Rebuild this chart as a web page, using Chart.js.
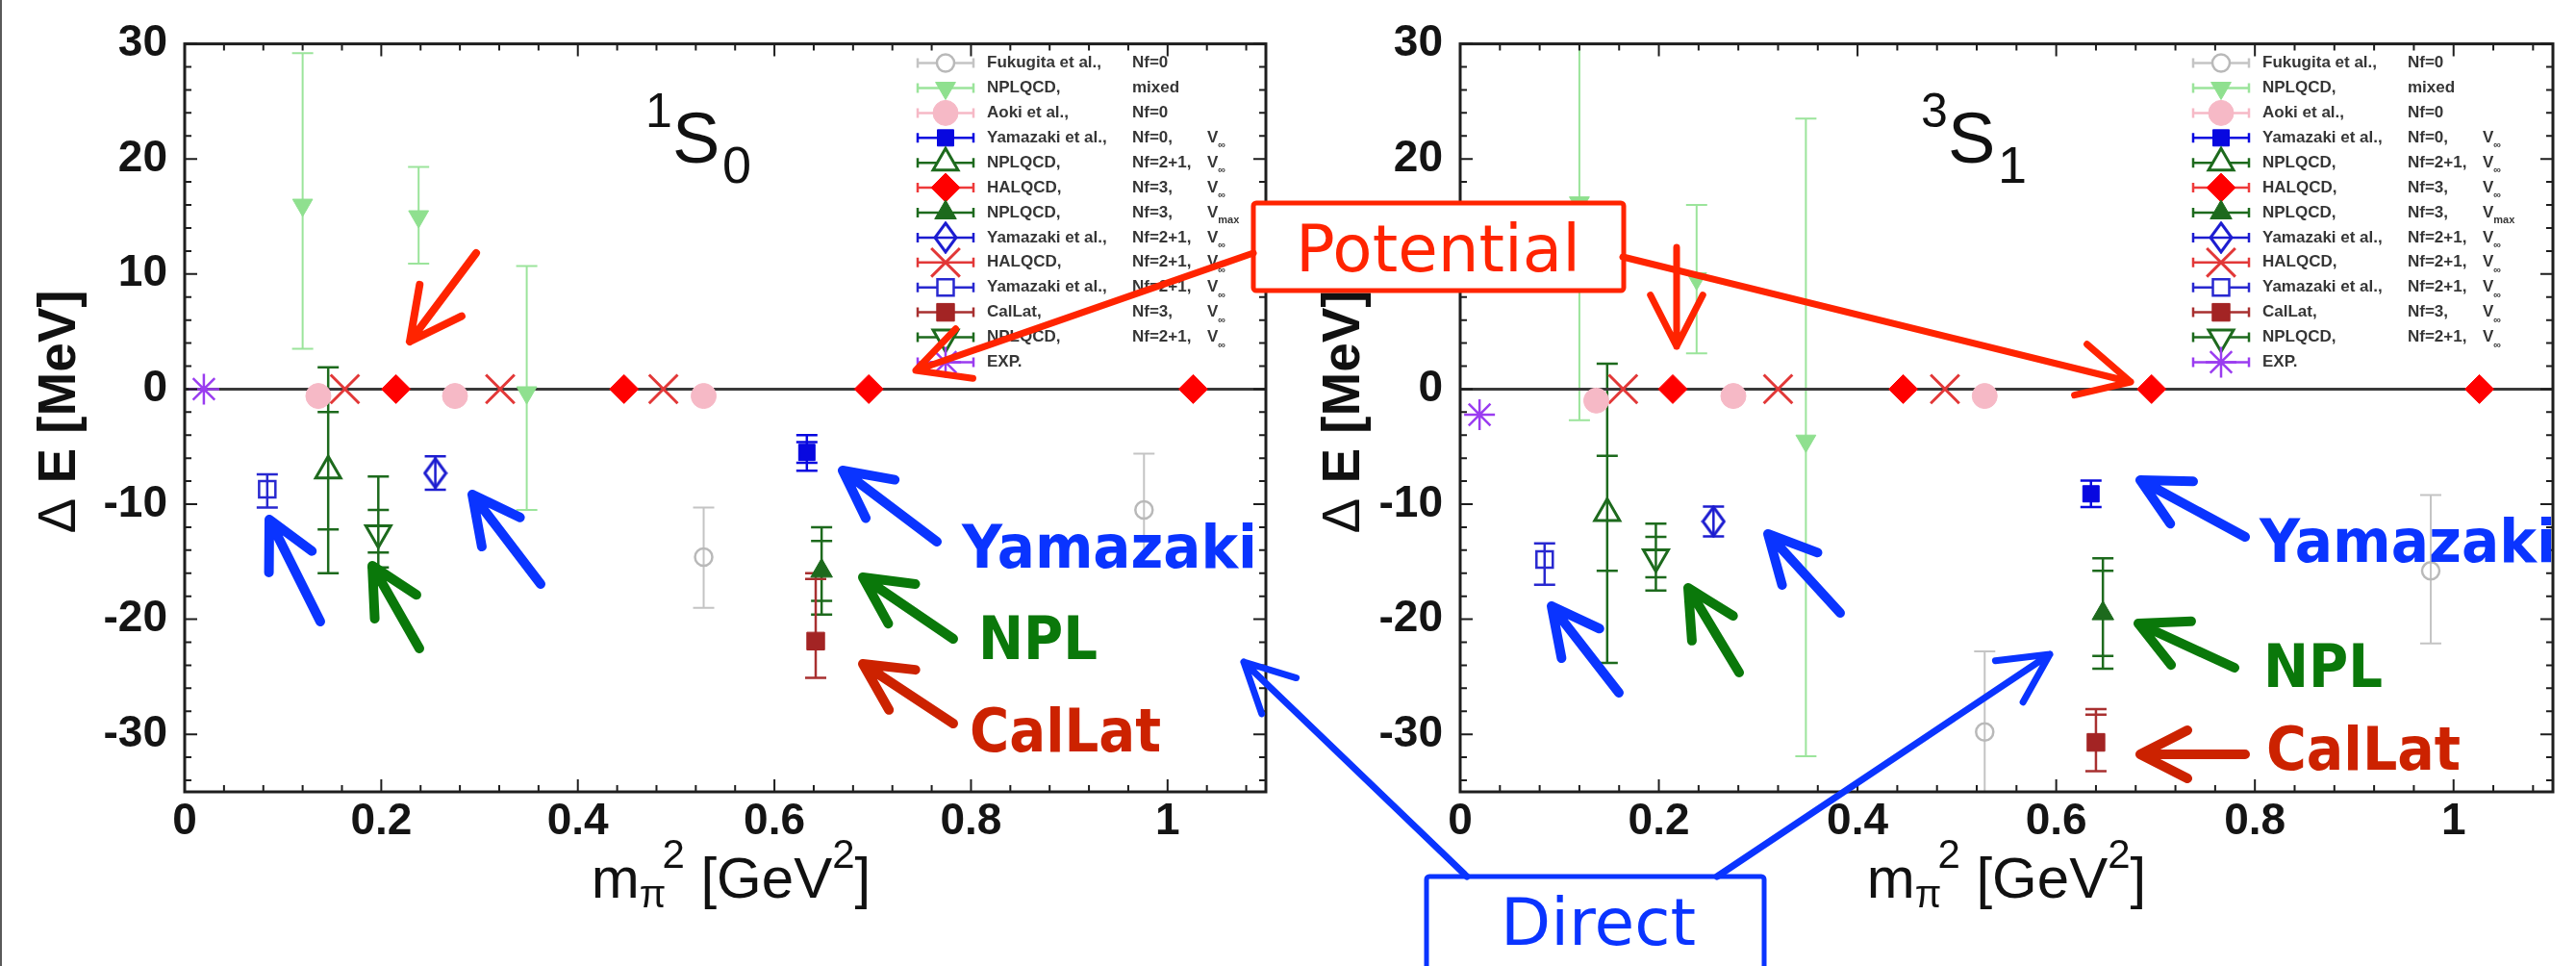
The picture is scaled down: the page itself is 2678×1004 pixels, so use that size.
<!DOCTYPE html>
<html lang="en">
<head>
<meta charset="utf-8">
<title>NN energy shifts vs pion mass squared</title>
<script src="https://cdn.jsdelivr.net/npm/chart.js@4.4.1/dist/chart.umd.min.js"></script>
<style>
  html, body { margin: 0; padding: 0; background: #fff; }
  #stage { position: relative; width: 2678px; height: 1004px; overflow: hidden; background: #fff; }
  #stage canvas { position: absolute; top: 0; }
  #panelA { left: 0; }
  #panelB { left: 1326px; }
  #notes { position: absolute; left: 0; top: 0; pointer-events: none; }
</style>
</head>
<body>
<div id="stage">
  <canvas id="panelA" width="1340" height="1004"></canvas>
  <canvas id="panelB" width="1352" height="1004"></canvas>
  <svg id="notes" width="2678" height="1004" xmlns="http://www.w3.org/2000/svg"></svg>
</div>
<script>
// ---------- axis ticks ----------
const xTickValues = [0, 0.2, 0.4, 0.6, 0.8, 1.0];
const xTickLabels = ['0', '0.2', '0.4', '0.6', '0.8', '1'];
const yTickValues = [30, 20, 10, 0, -10, -20, -30];
const yTickLabels = ['30', '20', '10', '0', '-10', '-20', '-30'];

// ---------- key entries: collaboration, flavours, volume ----------
const keyNames = ['Fukugita et al.,', 'NPLQCD,', 'Aoki et al.,', 'Yamazaki et al.,', 'NPLQCD,', 'HALQCD,',
                  'NPLQCD,', 'Yamazaki et al.,', 'HALQCD,', 'Yamazaki et al.,', 'CalLat,', 'NPLQCD,', 'EXP.'];
const keyFlavours = ['Nf=0', 'mixed', 'Nf=0', 'Nf=0,', 'Nf=2+1,', 'Nf=3,', 'Nf=3,', 'Nf=2+1,', 'Nf=2+1,',
                     'Nf=2+1,', 'Nf=3,', 'Nf=2+1,', ''];
const keyVolumes = ['', '', '', '\u221E', '\u221E', '\u221E', 'max', '\u221E', '\u221E', '\u221E', '\u221E', '\u221E', ''];

// ---------- 1S0 channel: [m_pi^2 GeV^2, dE MeV, stat-, stat+, total-, total+] ----------
const fukugita1S0     = [[0.528, -14.6, 4.4, 4.3], [0.976, -10.5, 4.7, 4.9]];
const nplMixed1S0     = [[0.120, 16.0, 12.5, 13.2], [0.238, 15.0, 4.1, 4.3], [0.348, -0.3, 10.2, 11.0]];
const aoki1S0         = [[0.136, -0.6], [0.275, -0.6], [0.528, -0.6]];
const yamazakiQ1S0    = [[0.633, -5.5, 0.9, 0.9, 1.6, 1.5]];
const nplOpen1S0      = [[0.146, -7.1, 5.1, 5.1, 8.9, 9.0]];
const halNf3_1S0      = [[0.215, 0], [0.447, 0], [0.696, 0], [1.026, 0]];
const nplNf3_1S0      = [[0.648, -15.8, 2.6, 2.6, 3.8, 3.8]];
const yamazakiDia1S0  = [[0.255, -7.3, 1.45, 1.45]];
const hal21_1S0       = [[0.163, 0], [0.321, 0], [0.487, 0]];
const yamazakiSq1S0   = [[0.084, -8.7, 1.6, 1.3]];
const calLat1S0       = [[0.642, -21.9, 3.2, 5.4, 3.2, 5.9]];
const nplInv1S0       = [[0.197, -12.5, 1.7, 2.0, 3.0, 4.9]];
const exp1S0          = [[0.0195, 0]];

// ---------- 3S1 channel ----------
const fukugita3S1     = [[0.528, -29.8, 7.0, 7.0], [0.977, -15.8, 6.3, 6.6]];
const nplMixed3S1     = [[0.120, 16.2, 18.9, 17.0], [0.238, 9.6, 6.5, 6.4], [0.348, -4.5, 27.4, 28.0]];
const aoki3S1         = [[0.137, -1.0], [0.275, -0.6], [0.528, -0.6]];
const yamazakiQ3S1    = [[0.635, -9.1, 1.15, 1.15]];
const nplOpen3S1      = [[0.148, -10.8, 5.0, 5.0, 13.0, 13.0]];
const halNf3_3S1      = [[0.214, 0], [0.446, 0], [0.696, 0], [1.026, 0]];
const nplNf3_3S1      = [[0.647, -19.5, 3.7, 3.7, 4.8, 4.8]];
const yamazakiDia3S1  = [[0.255, -11.5, 1.3, 1.3]];
const hal21_3S1       = [[0.164, 0], [0.320, 0], [0.488, 0]];
const yamazakiSq3S1   = [[0.085, -14.8, 2.2, 1.4]];
const calLat3S1       = [[0.640, -30.7, 2.5, 2.4, 2.5, 2.9]];
const nplInv3S1       = [[0.197, -14.6, 1.75, 1.75, 2.9, 2.9]];
const exp3S1          = [[0.0195, -2.22]];

const rows1S0 = [fukugita1S0, nplMixed1S0, aoki1S0, yamazakiQ1S0, nplOpen1S0, halNf3_1S0, nplNf3_1S0,
                 yamazakiDia1S0, hal21_1S0, yamazakiSq1S0, calLat1S0, nplInv1S0, exp1S0];
const rows3S1 = [fukugita3S1, nplMixed3S1, aoki3S1, yamazakiQ3S1, nplOpen3S1, halNf3_3S1, nplNf3_3S1,
                 yamazakiDia3S1, hal21_3S1, yamazakiSq3S1, calLat3S1, nplInv3S1, exp3S1];

// ---------- marker looks, same order as the key ----------
const NONE = 'rgba(0,0,0,0)';
const DKGREEN = '#1d6a1d';
const seriesLook = [
  { shape: 'circle',   r: 9,  fill: NONE,      line: '#b9b9b9', lw: 2.5, bar: '#c4c4c4', barW: 2 },
  { shape: 'triangle', r: 12, fill: '#8fe08f', line: '#8fe08f', lw: 1,   bar: '#9be49b', barW: 2, rot: 180 },
  { shape: 'circle',   r: 13, fill: '#f6b9c6', line: '#f6b9c6', lw: 1,   bar: '#f6b9c6', barW: 2 },
  { shape: 'rect',     r: 12, fill: '#0808e0', line: '#0808e0', lw: 1,   bar: '#0808e0', barW: 2.5 },
  { shape: 'triangle', r: 15, fill: NONE,      line: DKGREEN,   lw: 3,   bar: DKGREEN,   barW: 2.5 },
  { shape: 'rectRot',  r: 15, fill: '#ff0000', line: '#ff0000', lw: 1,   bar: '#ee3a3a', barW: 2 },
  { shape: 'triangle', r: 13, fill: DKGREEN,   line: DKGREEN,   lw: 1,   bar: DKGREEN,   barW: 2.5 },
  { shape: 'tallDiamond', r: 13, fill: NONE,   line: '#1c1cd0', lw: 3,   bar: '#1c1cd0', barW: 2.5 },
  { shape: 'crossRot', r: 21, fill: '#e23838', line: '#e23838', lw: 3,   bar: '#e23838', barW: 2 },
  { shape: 'rect',     r: 12, fill: NONE,      line: '#2828d0', lw: 2.5, bar: '#2828d0', barW: 2.5 },
  { shape: 'rect',     r: 13, fill: '#a32424', line: '#a32424', lw: 1,   bar: '#a83030', barW: 2.5 },
  { shape: 'triangle', r: 15, fill: NONE,      line: DKGREEN,   lw: 3,   bar: DKGREEN,   barW: 2.5, rot: 180 },
  { shape: 'star',     r: 16, fill: '#9a3cf0', line: '#9a3cf0', lw: 2.5, bar: '#9a3cf0', barW: 2 }
];

// Open diamond, taller than wide
function tallDiamond(color) {
  const c = document.createElement('canvas');
  c.width = 26; c.height = 34;
  const g = c.getContext('2d');
  g.strokeStyle = color; g.lineWidth = 3;
  g.beginPath(); g.moveTo(13, 2); g.lineTo(24, 17); g.lineTo(13, 32); g.lineTo(2, 17); g.closePath();
  g.stroke();
  return c;
}

function toDatasets(rowsList) {
  return rowsList.map((rows, i) => {
    const look = seriesLook[i];
    const style = look.shape === 'tallDiamond' ? tallDiamond(look.line) : look.shape;
    return {
      label: keyNames[i],
      data: rows.map(r => ({ x: r[0], y: r[1] })),
      errors: rows.map(r => (r.length > 2 ? r.slice(2) : null)),
      pointStyle: style,
      pointRadius: look.r,
      pointRotation: look.rot || 0,
      pointBackgroundColor: look.fill,
      pointBorderColor: look.line,
      pointBorderWidth: look.lw,
      backgroundColor: look.fill,
      borderColor: look.line,
      borderWidth: look.lw,
      barColor: look.bar,
      barWidth: look.barW,
      showLine: false
    };
  });
}

// ---------- plugins ----------
const CAP = 11;

// zero line under the markers, frame and inward ticks above
const framePlugin = {
  id: 'frame',
  beforeDatasetsDraw(chart) {
    const { ctx, chartArea: a, scales: { y } } = chart;
    const y0 = y.getPixelForValue(0);
    ctx.save();
    ctx.strokeStyle = '#3a3a3a'; ctx.lineWidth = 3;
    ctx.beginPath(); ctx.moveTo(a.left, y0); ctx.lineTo(a.right, y0); ctx.stroke();
    ctx.restore();
  },
  afterDatasetsDraw(chart) {
    const { ctx, chartArea: a, scales: { x, y } } = chart;
    ctx.save();
    ctx.strokeStyle = '#1e1e1e';
    ctx.lineWidth = 2;
    ctx.beginPath();
    for (let i = 0; i <= 27; i++) {
      const px = x.getPixelForValue(i * 0.04);
      const len = i % 5 === 0 ? 13 : 7;
      ctx.moveTo(px, a.bottom); ctx.lineTo(px, a.bottom - len);
      ctx.moveTo(px, a.top); ctx.lineTo(px, a.top + len);
    }
    for (let v = -34; v <= 30; v += 2) {
      const py = y.getPixelForValue(v);
      const len = v % 10 === 0 ? 13 : 7;
      ctx.moveTo(a.left, py); ctx.lineTo(a.left + len, py);
      ctx.moveTo(a.right, py); ctx.lineTo(a.right - len, py);
    }
    ctx.stroke();
    ctx.lineWidth = 3;
    ctx.strokeRect(a.left, a.top, a.right - a.left, a.bottom - a.top);
    ctx.restore();
  }
};

// stat and total error bars, capped at both levels
const errorBarPlugin = {
  id: 'errorBars',
  beforeDatasetsDraw(chart) {
    const { ctx, chartArea: a, scales: { x, y } } = chart;
    ctx.save();
    ctx.beginPath(); ctx.rect(a.left, a.top, a.right - a.left, a.bottom - a.top); ctx.clip();
    chart.data.datasets.forEach(ds => {
      ctx.strokeStyle = ds.barColor; ctx.lineWidth = ds.barWidth;
      ds.data.forEach((pt, i) => {
        const e = ds.errors[i];
        if (!e) return;
        const lo = [e[0]], hi = [e[1]];
        if (e.length > 2) { lo.push(e[2]); hi.push(e[3]); }
        const px = x.getPixelForValue(pt.x);
        const top = y.getPixelForValue(pt.y + Math.max(...hi));
        const bot = y.getPixelForValue(pt.y - Math.max(...lo));
        ctx.beginPath();
        ctx.moveTo(px, top); ctx.lineTo(px, bot);
        [...lo.map(d => pt.y - d), ...hi.map(d => pt.y + d)].forEach(v => {
          const py = y.getPixelForValue(v);
          ctx.moveTo(px - CAP, py); ctx.lineTo(px + CAP, py);
        });
        ctx.stroke();
      });
    });
    ctx.restore();
  }
};

// key in the upper right of each panel
const seriesKeyPlugin = {
  id: 'seriesKey',
  afterDraw(chart) {
    const { ctx, chartArea: a } = chart;
    const sx = a.left + 791, c1 = a.left + 834, c2 = a.left + 985, c3 = a.left + 1063;
    chart.data.datasets.forEach((ds, i) => {
      const yy = a.top + 20 + i * 25.9;
      ctx.save();
      ctx.strokeStyle = ds.barColor; ctx.lineWidth = 2.5;
      ctx.beginPath();
      ctx.moveTo(sx - 29, yy); ctx.lineTo(sx + 29, yy);
      ctx.moveTo(sx - 29, yy - 5); ctx.lineTo(sx - 29, yy + 5);
      ctx.moveTo(sx + 29, yy - 5); ctx.lineTo(sx + 29, yy + 5);
      ctx.stroke();
      ctx.fillStyle = ds.pointBackgroundColor;
      ctx.strokeStyle = ds.pointBorderColor;
      ctx.lineWidth = ds.pointBorderWidth;
      if (ds.pointBackgroundColor === NONE) {
        ctx.fillStyle = '#ffffff';
      }
      Chart.helpers.drawPoint(ctx, {
        pointStyle: ds.pointStyle, radius: ds.pointRadius,
        rotation: ds.pointRotation, borderWidth: ds.pointBorderWidth
      }, sx, yy);
      ctx.restore();

      ctx.save();
      ctx.fillStyle = '#363636';
      ctx.textBaseline = 'middle';
      ctx.font = 'bold 17px "Liberation Sans", Arial, sans-serif';
      ctx.fillText(keyNames[i], c1, yy);
      ctx.fillText(keyFlavours[i], c2, yy);
      if (keyVolumes[i]) {
        ctx.fillText('V', c3, yy);
        const vw = ctx.measureText('V').width;
        ctx.font = 'bold 11px "Liberation Sans", Arial, sans-serif';
        ctx.fillText(keyVolumes[i], c3 + vw, yy + 8);
      }
      ctx.restore();
    });
  }
};

const tickFont = { family: '"Liberation Sans", Arial, sans-serif', size: 46, weight: 'bold' };

function buildPanel(canvasId, rowsList, padRight) {
  return new Chart(document.getElementById(canvasId), {
    type: 'scatter',
    data: { datasets: toDatasets(rowsList) },
    options: {
      responsive: false,
      animation: false,
      events: [],
      layout: { padding: { top: 32, right: padRight, left: 0, bottom: 0 } },
      plugins: { legend: { display: false }, tooltip: { enabled: false } },
      scales: {
        x: {
          type: 'linear', position: 'bottom', min: 0, max: 1.1,
          grid: { display: false, drawTicks: false },
          border: { display: false },
          afterBuildTicks: s => { s.ticks = xTickValues.map(v => ({ value: v })); },
          afterFit: s => { s.height = 181; },
          ticks: {
            autoSkip: false, maxRotation: 0, padding: 4, color: '#141414', font: tickFont,
            callback: v => xTickLabels[xTickValues.indexOf(v)]
          }
        },
        y: {
          type: 'linear', position: 'left', min: -35, max: 30,
          grid: { display: false, drawTicks: false },
          border: { display: false },
          afterBuildTicks: s => {
            s.ticks = [...yTickValues].sort((p, q) => p - q).map(v => ({ value: v }));
          },
          afterFit: s => { s.width = 192; },
          ticks: {
            autoSkip: false, padding: 18, color: '#141414', font: tickFont,
            callback: v => yTickLabels[yTickValues.indexOf(v)]
          }
        }
      }
    },
    plugins: [errorBarPlugin, framePlugin, seriesKeyPlugin]
  });
}

buildPanel('panelA', rows1S0, 3);
buildPanel('panelB', rows3S1, 15);

// ---------- titles and call-outs ----------
const SVGNS = 'http://www.w3.org/2000/svg';
const svg = document.getElementById('notes');

function el(tag, attrs, parent) {
  const e = document.createElementNS(SVGNS, tag);
  Object.entries(attrs).forEach(([k, v]) => e.setAttribute(k, v));
  (parent || svg).appendChild(e);
  return e;
}
function tspan(parent, text, attrs) {
  const t = el('tspan', attrs || {}, parent);
  t.textContent = text;
  return t;
}

// slide edge on the left
el('line', { x1: 1, y1: 0, x2: 1, y2: 1004, stroke: '#5a5a5a', 'stroke-width': 2 });

const AXIS_FONT = '"Liberation Sans", Arial, sans-serif';

function panelTitles(dx, sup, sub, yTitleX) {
  // spectroscopic label
  const st = el('text', { 'font-family': AXIS_FONT, fill: '#111' });
  tspan(st, sup, { x: 671 + dx, y: 132, 'font-size': 50 });
  tspan(st, 'S', { x: 699 + dx, y: 169, 'font-size': 74 });
  tspan(st, sub, { x: 751 + dx, y: 190, 'font-size': 54 });

  // vertical axis title
  const yt = el('text', {
    transform: `translate(${yTitleX},428) rotate(-90)`, 'text-anchor': 'middle',
    'font-family': AXIS_FONT, 'font-size': 56, 'font-weight': 'bold', fill: '#111',
    textLength: 253, lengthAdjust: 'spacingAndGlyphs'
  });
  tspan(yt, '\u0394', { 'font-weight': 'normal' });
  tspan(yt, ' E [MeV]');

  // horizontal axis title
  const xt = el('text', {
    x: 760 + dx, y: 933, 'text-anchor': 'middle', 'font-family': AXIS_FONT,
    'font-size': 60, fill: '#111'
  });
  tspan(xt, 'm');
  tspan(xt, '\u03C0', { 'font-size': 40, dy: 10 });
  tspan(xt, '2', { 'font-size': 42, dy: -41, dx: -4 });
  tspan(xt, ' [GeV', { 'font-size': 60, dy: 31 });
  tspan(xt, '2', { 'font-size': 42, dy: -31 });
  tspan(xt, ']', { 'font-size': 60, dy: 31 });
}
panelTitles(0, '1', '0', 78);
panelTitles(1326, '3', '1', 1413);

const BLUE = '#0a34ff', GREEN = '#0a780a', CALRED = '#cc2200', POTRED = '#ff2400';

function arrow(from, to, color, width, head) {
  const ang = Math.atan2(from[1] - to[1], from[0] - to[0]);
  const spread = 27 * Math.PI / 180;
  const w1 = [to[0] + head * Math.cos(ang + spread), to[1] + head * Math.sin(ang + spread)];
  const w2 = [to[0] + head * Math.cos(ang - spread), to[1] + head * Math.sin(ang - spread)];
  el('path', {
    d: `M${from[0]} ${from[1]}L${to[0]} ${to[1]}M${w1[0]} ${w1[1]}L${to[0]} ${to[1]}L${w2[0]} ${w2[1]}`,
    fill: 'none', stroke: color, 'stroke-width': width, 'stroke-linecap': 'round', 'stroke-linejoin': 'round'
  });
}

function label(text, x, y, color, length, size) {
  const t = el('text', {
    x, y, fill: color, 'font-family': '"DejaVu Sans", Verdana, sans-serif', 'font-weight': 'bold',
    'font-size': size || 62, textLength: length, lengthAdjust: 'spacingAndGlyphs'
  });
  t.textContent = text;
}

// group call-outs, 1S0 panel
arrow([495, 263], [426, 355], POTRED, 8, 60);
arrow([333, 646], [280, 540], BLUE, 10, 55);
arrow([436, 674], [387, 588], GREEN, 10, 55);
arrow([562, 607], [491, 514], BLUE, 10, 55);
arrow([974, 563], [876, 489], BLUE, 10, 55);
arrow([991, 664], [897, 600], GREEN, 10, 55);
arrow([991, 752], [897, 690], CALRED, 10, 55);
label('Yamazaki', 1000, 590, BLUE, 307);
label('NPL', 1017, 685, GREEN, 124);
label('CalLat', 1008, 781, CALRED, 199);

// group call-outs, 3S1 panel
arrow([1683, 720], [1613, 630], BLUE, 10, 55);
arrow([1808, 699], [1755, 611], GREEN, 10, 55);
arrow([1913, 637], [1838, 555], BLUE, 10, 55);
arrow([2334, 558], [2225, 499], BLUE, 10, 55);
arrow([2323, 694], [2223, 648], GREEN, 10, 55);
arrow([2334, 784], [2225, 784], CALRED, 10, 55);
label('Yamazaki', 2349, 584, BLUE, 308);
label('NPL', 2353, 714, GREEN, 124);
label('CalLat', 2356, 800, CALRED, 202);

// method boxes
el('rect', { x: 1303, y: 211, width: 385, height: 91, rx: 3, fill: '#fff', stroke: POTRED, 'stroke-width': 5 });
const pot = el('text', {
  x: 1347, y: 282, fill: POTRED, 'font-family': '"DejaVu Sans", Verdana, sans-serif', 'font-size': 68,
  textLength: 296, lengthAdjust: 'spacingAndGlyphs'
});
pot.textContent = 'Potential';
arrow([1303, 263], [952, 385], POTRED, 7, 60);
arrow([1687, 267], [2215, 397], POTRED, 7, 60);
arrow([1743, 257], [1743, 360], POTRED, 7, 60);

el('rect', { x: 1483, y: 911, width: 351, height: 130, rx: 3, fill: '#fff', stroke: BLUE, 'stroke-width': 5 });
const dir = el('text', {
  x: 1560, y: 982, fill: BLUE, 'font-family': '"DejaVu Sans", Verdana, sans-serif', 'font-size': 68,
  textLength: 203, lengthAdjust: 'spacingAndGlyphs'
});
dir.textContent = 'Direct';
arrow([1525, 911], [1293, 688], BLUE, 7, 57);
arrow([1785, 911], [2131, 680], BLUE, 7, 57);
</script>
</body>
</html>
